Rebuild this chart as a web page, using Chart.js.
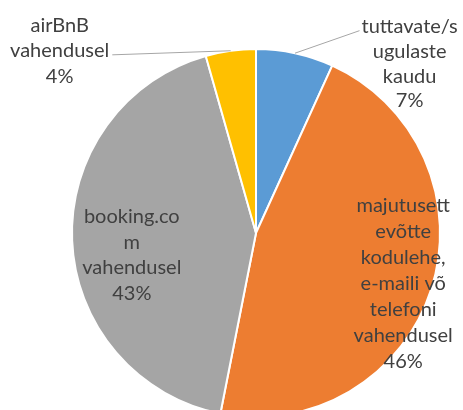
<!DOCTYPE html>
<html>
<head>
<meta charset="utf-8">
<script src="https://cdn.jsdelivr.net/npm/chart.js@4"></script>
<style>
  html, body { margin: 0; padding: 0; background: #fff; overflow: hidden; }
  #clip { width: 463px; height: 410px; overflow: hidden; position: relative; }
  #box { width: 463px; height: 468px; position: absolute; left: 0; top: 0; }
</style>
</head>
<body>
<div id="clip"><div id="box"><canvas id="pie"></canvas></div></div>
<script>
// andmed
const categories = [
    ['tuttavate/s', 'ugulaste', 'kaudu'],
    ['majutusett', 'evõtte', 'kodulehe,', 'e-maili võ', 'telefoni', 'vahendusel'],
    ['booking.co', 'm', 'vahendusel'],
    ['airBnB', 'vahendusel']
];
const values = [6.8, 46.3, 42.5, 4.4];
const colors = ['#5B9BD5', '#ED7D31', '#A5A5A5', '#FFC000'];

// sildi paigutus (raadiuse ühikutes pirukast keskpunkti suhtes)
const labelPlace = [
    { dx: 0.835, dy: -0.92, leader: true, side: 'left', line: 0, lh: 24.7 },
    { dx: 0.80, dy: 0.275, lh: 26 },
    { dx: -0.675, dy: 0.12, lh: 25.5 },
    { dx: -1.067, dy: -0.99, leader: true, side: 'right', line: 1, lh: 25.5 }
];

const FONT = '20px Lato';

const labelPlugin = {
    id: 'pieLabels',
    afterDraw(chart) {
        const ctx = chart.ctx;
        const meta = chart.getDatasetMeta(0);
        const total = values.reduce((a, b) => a + b, 0);
        ctx.save();
        ctx.font = FONT;
        ctx.fillStyle = '#404040';
        ctx.textAlign = 'center';
        ctx.textBaseline = 'middle';
        meta.data.forEach((arc, i) => {
            const p = arc.getProps(['x', 'y', 'startAngle', 'endAngle', 'outerRadius'], true);
            const mid = (p.startAngle + p.endAngle) / 2;
            const R = p.outerRadius;
            const lines = categories[i].concat([Math.round(values[i] / total * 100) + '%']);
            const cfg = labelPlace[i];
            const lh = cfg.lh;
            const cx = p.x + cfg.dx * R;
            const cy = p.y + cfg.dy * R;
            const top = cy - (lines.length - 1) * lh / 2;
            if (cfg.leader) {
                const w = ctx.measureText(lines[cfg.line]).width;
                const ex = cfg.side === 'left' ? cx - w / 2 - 2 : cx + w / 2 + 3;
                const ey = top + cfg.line * lh + 4;
                ctx.beginPath();
                ctx.strokeStyle = '#A6A6A6';
                ctx.lineWidth = 1;
                ctx.moveTo(p.x + Math.cos(mid) * R, p.y + Math.sin(mid) * R);
                ctx.lineTo(ex, ey);
                ctx.stroke();
            }
            lines.forEach((t, k) => ctx.fillText(t, cx, top + k * lh));
        });
        ctx.restore();
    }
};

new Chart(document.getElementById('pie'), {
    type: 'pie',
    data: {
        labels: categories.map(c => c.join(' ')),
        datasets: [{
            data: values,
            backgroundColor: colors,
            borderColor: '#ffffff',
            borderWidth: 2,
            hoverOffset: 0
        }]
    },
    options: {
        responsive: true,
        maintainAspectRatio: false,
        animation: false,
        layout: { padding: { left: 71, right: 22, top: 48, bottom: 50 } },
        plugins: {
            legend: { display: false },
            tooltip: { enabled: false }
        }
    },
    plugins: [labelPlugin]
});
</script>
</body>
</html>
